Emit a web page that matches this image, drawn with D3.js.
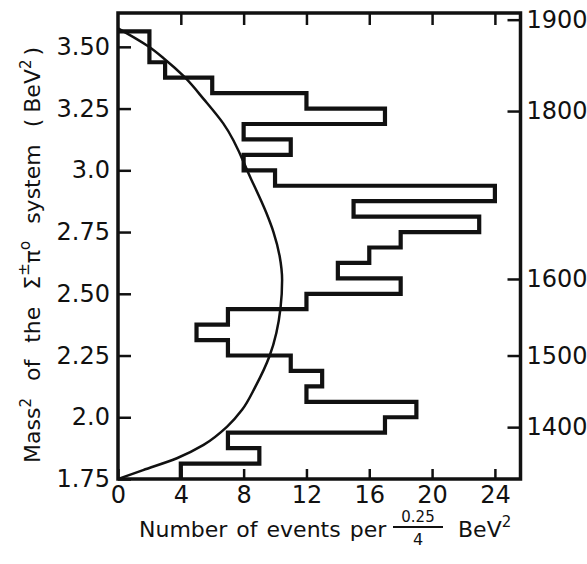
<!DOCTYPE html>
<html>
<head>
<meta charset="utf-8">
<script src="https://cdn.jsdelivr.net/npm/d3@7"></script>
<style>
body { margin: 0; background: #fff; }
text { font-family: "DejaVu Sans", sans-serif; fill: #111; }
</style>
</head>
<body>
<div id="chart"></div>
<script>
// histogram: events per 0.0625 BeV^2 bin, starting at 1.75
var bin_start   = 1.75;
var bin_width   = 0.0625;
var counts      = [4, 9, 7, 17, 19, 12, 13, 11, 7, 5, 7, 12, 18, 14, 16, 18, 23, 15, 24, 10, 8, 11, 8, 17, 12, 6, 3, 2, 2];

// phase space curve
var curve_events = [0, 1.6, 3.75, 5.45, 6.95, 7.9, 8.75, 9.65, 10.35, 10.45, 10.3, 9.9, 9.45, 8.5, 6.7, 5.5, 4.2, 2.9, 1.95, 0];
var curve_mass2  = [1.75, 1.786, 1.834, 1.888, 1.962, 2.03, 2.124, 2.248, 2.443, 2.556, 2.65, 2.75, 2.827, 2.961, 3.19, 3.285, 3.38, 3.454, 3.501, 3.575];

// axis ticks
var left_ticks   = [1.75, 2.0, 2.25, 2.5, 2.75, 3.0, 3.25, 3.5];
var left_labels  = ['1.75', '2.0', '2.25', '2.50', '2.75', '3.0', '3.25', '3.50'];
var bottom_ticks = [0, 4, 8, 12, 16, 20, 24];
var mass_ticks   = [1400, 1500, 1600, 1800, 1900];

var chart_width  = 587;
var chart_height = 564;
var plot = { left: 118, right: 520.5, top: 13, bottom: 479 };

var svg = d3.select('#chart')
    .append('svg')
    .attr('width', chart_width)
    .attr('height', chart_height);

// scales
var x_scale = d3.scaleLinear()
    .domain([0, 25.63])
    .range([plot.left, plot.right]);

var y_scale = d3.scaleLinear()
    .domain([1.75, 3.637])
    .range([plot.bottom, plot.top]);

// mass in MeV -> same pixel as mass^2 in BeV^2
var m_scale = d3.scalePow().exponent(2)
    .domain([Math.sqrt(1.75) * 1000, Math.sqrt(3.637) * 1000])
    .range([plot.bottom, plot.top]);

// axes (ticks point inward)
var left_axis = d3.axisLeft(y_scale)
    .tickValues(left_ticks)
    .tickFormat(function(d, i){ return left_labels[i]; })
    .tickSizeInner(-13).tickSizeOuter(0).tickPadding(8);

var bottom_axis = d3.axisBottom(x_scale)
    .tickValues(bottom_ticks)
    .tickFormat(d3.format('d'))
    .tickSizeInner(-10).tickSizeOuter(0).tickPadding(7);

var top_axis = d3.axisTop(x_scale)
    .tickValues(bottom_ticks.slice(1))
    .tickFormat('')
    .tickSizeInner(-12).tickSizeOuter(0);

var right_axis = d3.axisRight(m_scale)
    .tickValues(mass_ticks)
    .tickFormat(d3.format('d'))
    .tickSizeInner(-13).tickSizeOuter(0).tickPadding(6);

function style_axis(g){
    g.select('.domain').remove();
    g.selectAll('.tick line').attr('stroke', '#111').attr('stroke-width', 2.5);
    g.selectAll('.tick text')
        .attr('font-family', '"DejaVu Sans", sans-serif')
        .attr('font-size', 24)
        .attr('fill', '#111');
}

svg.append('g').attr('transform', 'translate(' + plot.left + ',0)').call(left_axis).call(style_axis);
svg.append('g').attr('transform', 'translate(0,' + plot.bottom + ')').call(bottom_axis).call(style_axis);
svg.append('g').attr('transform', 'translate(0,' + plot.top + ')').call(top_axis).call(style_axis);
svg.append('g').attr('transform', 'translate(' + plot.right + ',0)').call(right_axis).call(style_axis);

// frame
svg.append('rect')
    .attr('x', plot.left)
    .attr('y', plot.top)
    .attr('width', plot.right - plot.left)
    .attr('height', plot.bottom - plot.top)
    .attr('fill', 'none')
    .attr('stroke', '#111')
    .attr('stroke-width', 3.5);

// histogram outline as a step path
var steps = [[counts[0], bin_start]];
counts.forEach(function(c, i){
    steps.push([c, bin_start + i * bin_width]);
    steps.push([c, bin_start + (i + 1) * bin_width]);
});
steps.push([0, bin_start + counts.length * bin_width]);

var step_line = d3.line()
    .x(function(d){ return x_scale(d[0]); })
    .y(function(d){ return y_scale(d[1]); });

svg.append('path')
    .datum(steps)
    .attr('d', step_line)
    .attr('fill', 'none')
    .attr('stroke', '#111')
    .attr('stroke-width', 4.2)
    .attr('stroke-linejoin', 'miter');

// phase space curve (events as a function of mass^2)
var curve_pts = curve_events.map(function(e, i){ return [e, curve_mass2[i]]; });

var smooth_line = d3.line()
    .x(function(d){ return x_scale(d[0]); })
    .y(function(d){ return y_scale(d[1]); })
    .curve(d3.curveMonotoneY);

svg.append('path')
    .datum(curve_pts)
    .attr('d', smooth_line)
    .attr('fill', 'none')
    .attr('stroke', '#111')
    .attr('stroke-width', 2.5);

// y axis title
var ytitle = svg.append('text')
    .attr('transform', 'translate(40,463) rotate(-90)')
    .attr('font-size', 22)
    .attr('word-spacing', 10);
ytitle.append('tspan').text('Mass');
ytitle.append('tspan').attr('font-size', 15).attr('dy', -9).text('2');
ytitle.append('tspan').attr('dy', 9).text(' of the Σ');
ytitle.append('tspan').attr('font-size', 15).attr('dy', -11).text('±');
ytitle.append('tspan').attr('dy', 11).text('π');
ytitle.append('tspan').attr('font-size', 15).attr('dy', -10).text('o');
ytitle.append('tspan').attr('dy', 10).text(' system (');
ytitle.append('tspan').attr('dx', 6).text('BeV');
ytitle.append('tspan').attr('font-size', 15).attr('dy', -9).text('2');
ytitle.append('tspan').attr('dy', 9).attr('dx', 4).text(')');

// x axis title
svg.append('text')
    .attr('x', 139).attr('y', 537)
    .attr('font-size', 22)
    .attr('word-spacing', 2)
    .text('Number of events per');

svg.append('text')
    .attr('x', 418).attr('y', 522)
    .attr('font-size', 15)
    .attr('text-anchor', 'middle')
    .text('0.25');
svg.append('line')
    .attr('x1', 393).attr('x2', 443)
    .attr('y1', 527).attr('y2', 527)
    .attr('stroke', '#111').attr('stroke-width', 2);
svg.append('text')
    .attr('x', 418).attr('y', 545)
    .attr('font-size', 16)
    .attr('text-anchor', 'middle')
    .text('4');

var unit = svg.append('text')
    .attr('x', 458).attr('y', 537)
    .attr('font-size', 22);
unit.append('tspan').text('BeV');
unit.append('tspan').attr('font-size', 15).attr('dy', -10).text('2');
</script>
</body>
</html>
